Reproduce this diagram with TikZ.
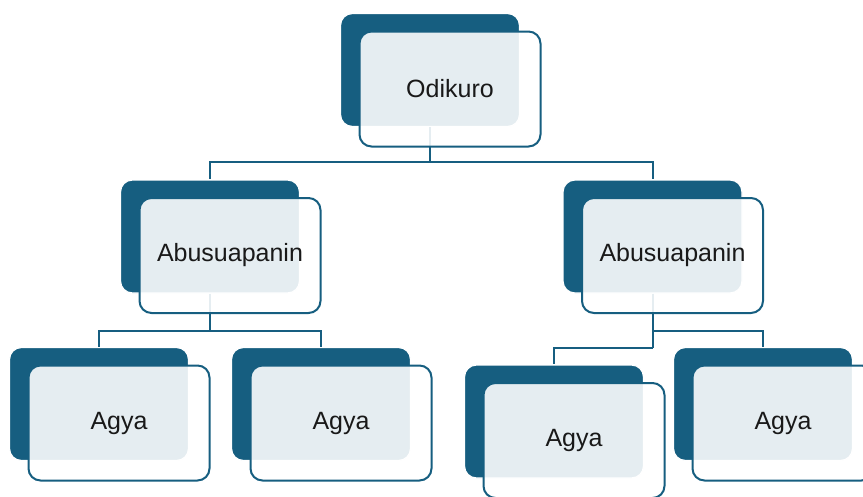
\documentclass[tikz,border=0pt]{standalone}
\usepackage{fontspec}
\setmainfont{Liberation Sans}
\usetikzlibrary{calc,positioning}
\definecolor{darkteal}{HTML}{165E80}
\tikzset{
  backbox/.style={draw=white, line width=1.2pt, fill=darkteal, rounded corners=12pt,
    minimum width=179pt, minimum height=113pt, inner sep=0pt},
  frontbox/.style={draw=darkteal, line width=2pt, fill=white, fill opacity=0.89,
    text opacity=1, rounded corners=12pt, minimum width=181pt, minimum height=115pt,
    inner sep=0pt, text=black!90, font=\fontsize{25}{30}\selectfont},
  link/.style={draw=darkteal, line width=2pt}
}

\begin{document}
\begin{tikzpicture}[x=1pt, y=-1pt]
    \useasboundingbox (0,0) rectangle (863,496);

    % back boxes
    \node(o0)[backbox] at (430,70){};
    \node(a1)[backbox] at (210,236.5){};
    \node(a2)[backbox] at (652.5,236.5){};
    \node(g1)[backbox] at (99,404){};
    \node(g2)[backbox] at (321,404){};
    \node(g3)[backbox] at (554,421.5){};
    \node(g4)[backbox] at (763,404){};

    % links
    \coordinate(j0) at (430,162);
    \draw[link] (o0.south) -- (j0);
    \draw[link] (j0) -| (a1.north);
    \draw[link] (j0) -| (a2.north);

    \coordinate(j1) at (210,331);
    \draw[link] (a1.south) -- (j1);
    \draw[link] (j1) -| (g1.north);
    \draw[link] (j1) -| (g2.north);

    \coordinate(j2) at (652.5,331);
    \coordinate(j3) at (652.5,348);
    \draw[link] (a2.south) -- (j3);
    \draw[link] (j2) -| (g4.north);
    \draw[link] (j3) -| (g3.north);

    % front boxes
    \node(o0f)[frontbox] at ($(o0)+(20,19)$){Odikuro};
    \node(a1f)[frontbox] at ($(a1)+(20,19)$){Abusuapanin};
    \node(a2f)[frontbox] at ($(a2)+(20,19)$){Abusuapanin};
    \node(g1f)[frontbox] at ($(g1)+(20,19)$){Agya};
    \node(g2f)[frontbox] at ($(g2)+(20,19)$){Agya};
    \node(g3f)[frontbox] at ($(g3)+(20,19)$){Agya};
    \node(g4f)[frontbox] at ($(g4)+(20,19)$){Agya};

\end{tikzpicture}
\end{document}
